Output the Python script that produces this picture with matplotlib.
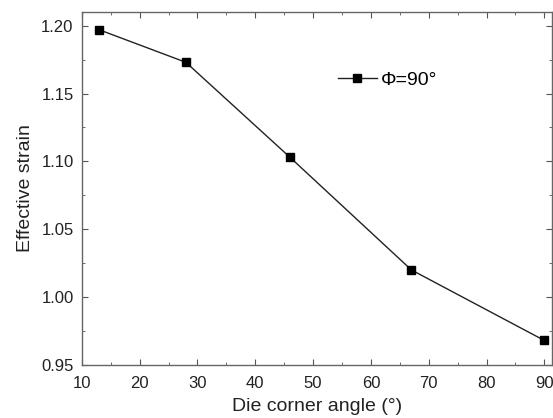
import matplotlib.pyplot as plt
from matplotlib.ticker import MultipleLocator

plt.rcParams['font.family'] = ['Liberation Sans', 'DejaVu Sans']

# ---------------- DATA ----------------
angle = [13, 28, 46, 67, 90]
strain = [1.197, 1.173, 1.103, 1.020, 0.968]
series_label = "Φ=90°"

# ---------------- PLOT ----------------
fig = plt.figure(figsize=(5.53, 4.18), dpi=100)
ax = fig.add_axes([0.148, 0.127, 0.85, 0.844])

ax.plot(angle, strain, color="#222222", lw=1.0, marker="s", ms=5.5,
        mfc="black", mec="black", label=series_label)

ax.set_xlim(10, 91.3)
ax.set_ylim(0.95, 1.21)
ax.xaxis.set_major_locator(MultipleLocator(10))
ax.xaxis.set_minor_locator(MultipleLocator(5))
ax.yaxis.set_major_locator(MultipleLocator(0.05))
ax.yaxis.set_minor_locator(MultipleLocator(0.025))
ax.yaxis.set_major_formatter(plt.FormatStrFormatter("%.2f"))

ax.tick_params(which="both", direction="in", top=True, right=True,
               labelsize=12, color="#555555", labelcolor="#222222")
ax.tick_params(which="major", length=4)
ax.tick_params(which="minor", length=2.5)
ax.tick_params(axis="x", pad=8)
ax.tick_params(axis="y", pad=6)
for s in ax.spines.values():
    s.set_color("#666666")
    s.set_linewidth(1.0)

ax.set_xlabel("Die corner angle (°)", fontsize=14, labelpad=5, color="#222222")
ax.set_ylabel("Effective strain", fontsize=14, labelpad=5, color="#222222")

ax.legend(loc="center left", bbox_to_anchor=(0.545, 0.807), frameon=False,
          fontsize=14, handlelength=2.0, handletextpad=0.2,
          borderpad=0, borderaxespad=0)

fig.savefig("out.png", dpi=100)
